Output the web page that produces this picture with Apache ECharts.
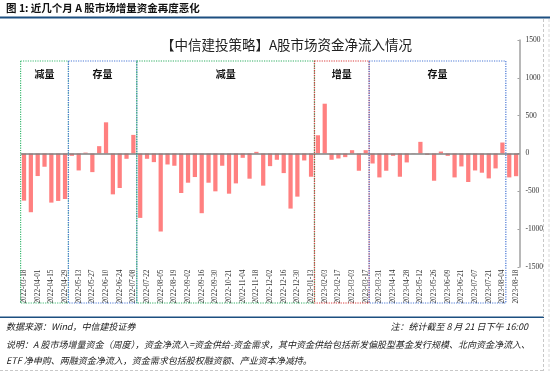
<!DOCTYPE html>
<html>
<head>
<meta charset="utf-8">
<script src="https://cdn.jsdelivr.net/npm/echarts@6/dist/echarts.min.js"></script>
<style>
html,body{margin:0;padding:0;background:#fff;}
#c{width:550px;height:372px;}
</style>
</head>
<body>
<div id="c"></div>
<script>
// ---- data ----
const categories = [
  '2022-03-18','2022-03-25','2022-04-01','2022-04-08','2022-04-15','2022-04-22','2022-04-29',
  '2022-05-06','2022-05-13','2022-05-20','2022-05-27','2022-06-03','2022-06-10','2022-06-17',
  '2022-06-24','2022-07-01','2022-07-08','2022-07-15','2022-07-22','2022-07-29','2022-08-05',
  '2022-08-12','2022-08-19','2022-08-26','2022-09-02','2022-09-09','2022-09-16','2022-09-23',
  '2022-09-30','2022-10-14','2022-10-21','2022-10-28','2022-11-04','2022-11-11','2022-11-18',
  '2022-11-25','2022-12-02','2022-12-09','2022-12-16','2022-12-23','2022-12-30','2023-01-06',
  '2023-01-13','2023-01-20','2023-02-03','2023-02-10','2023-02-17','2023-02-24','2023-03-03',
  '2023-03-10','2023-03-17','2023-03-24','2023-03-31','2023-04-07','2023-04-14','2023-04-21',
  '2023-04-28','2023-05-05','2023-05-12','2023-05-19','2023-05-26','2023-06-02','2023-06-09',
  '2023-06-16','2023-06-21','2023-06-30','2023-07-07','2023-07-14','2023-07-21','2023-07-28',
  '2023-08-04','2023-08-11','2023-08-18'
];
const netInflow = [
  -623,-776,-298,-175,-649,-627,-601,
  -31,-224,12,-246,97,412,-540,
  -456,-70,246,-851,-70,-114,-1031,
  -145,-162,-522,-386,-311,-789,-386,
  -500,-162,-531,-395,-57,-333,22,
  -425,-167,-83,-259,-728,-570,-92,
  -307,241,658,-83,-66,-48,44,
  -228,44,-132,-316,-228,-31,-307,
  -118,-4,154,-18,-360,26,-31,
  -316,-171,-377,-224,-254,-329,-197,
  145,-316,-300
];
const yMin = -1500, yMax = 1500, yInterval = 500;
const regimeNames = ['减量','存量','减量','增量','存量'];
const regimeStart = [0, 7, 17, 43, 51];
const regimeEnd   = [6, 16, 42, 50, 70];
const regimeColors = ['#3dbb73','#4a78d6','#2fae62','#d93a3a','#4a78d6'];

const chartTitle = '【中信建投策略】A股市场资金净流入情况';
const figTitle = '图 1: 近几个月 A 股市场增量资金再度恶化';
const sourceText = '数据来源：Wind，中信建投证券';
const noteText = '注：统计截至 8 月 21 日下午 16:00';
const descLine1 = '说明：A 股市场增量资金（周度），资金净流入=资金供给-资金需求，其中资金供给包括新发偏股型基金发行规模、北向资金净流入、';
const descLine2 = 'ETF 净申购、两融资金净流入，资金需求包括股权融资额、产业资本净减持。';

// ---- chart ----
const chart = echarts.init(document.getElementById('c'), null, {renderer:'canvas'});
const option = {
  animation: false,
  backgroundColor: '#fff',
  title: {
    text: chartTitle, left: 281.5, top: 33, textAlign: 'center',
    textStyle: {fontFamily: 'Noto Sans CJK SC', fontSize: 13.5, fontWeight: 'normal', color: '#222'}
  },
  grid: {left: 20.6, right: 30.5, top: 40, bottom: 105, containLabel: false},
  xAxis: {
    type: 'category', data: categories,
    axisLine: {show: false, onZero: false},
    axisTick: {show: false},
    axisLabel: {
      interval: 1, rotate: 90, margin: 2.5,
      fontSize: 7.3, fontFamily: 'Liberation Serif', color: '#333'
    }
  },
  yAxis: {
    type: 'value', position: 'right', min: yMin, max: yMax, interval: yInterval,
    axisLine: {show: true, lineStyle: {color: '#a0a0a0', width: 1.5}},
    axisTick: {show: true, inside: true, length: 2, lineStyle: {color: '#a0a0a0'}},
    splitLine: {show: false},
    axisLabel: {margin: 6, fontSize: 7.5, fontFamily: 'Liberation Serif', color: '#333',
      formatter: function (v) { return String(v); }}
  },
  series: [{
    type: 'bar', data: netInflow, barWidth: '62%',
    itemStyle: {color: '#ff8080'},
    markLine: {
      silent: true, symbol: 'none', label: {show: false},
      lineStyle: {color: '#808080', width: 1.5, type: 'solid'},
      emphasis: {disabled: true},
      data: [{yAxis: 0}]
    }
  }]
};
chart.setOption(option);

function px(i){
  const p = chart.convertToPixel({xAxisIndex: 0}, i);
  return Array.isArray(p) ? p[0] : p;
}
const bw = px(1) - px(0);
const boxTop = 61, boxBottom = 303;
const graphics = [];
for (let k = 0; k < regimeNames.length; k++) {
  const x0 = px(regimeStart[k]) - bw / 2;
  const x1 = px(regimeEnd[k]) + bw / 2;
  graphics.push({
    type: 'rect', z: 50,
    shape: {x: x0, y: boxTop, width: x1 - x0, height: boxBottom - boxTop},
    style: {fill: 'none', stroke: regimeColors[k], lineWidth: 1.2, lineDash: [1.2, 1.2]}
  });
  graphics.push({
    type: 'text', z: 51, x: (x0 + x1) / 2, y: 74,
    style: {text: regimeNames[k], fontFamily: 'Noto Sans CJK SC', fontSize: 10, fontWeight: 'bold',
            fill: '#111', align: 'center', verticalAlign: 'middle'}
  });
}
// header / footer
graphics.push(
  {type: 'text', x: 6, y: 8.5, style: {text: figTitle, fontFamily: 'Noto Sans CJK SC', fontSize: 10.5,
    fontWeight: 'bold', fill: '#111', verticalAlign: 'middle'}},
  {type: 'line', shape: {x1: 0, y1: 17.5, x2: 550, y2: 17.5}, style: {stroke: '#1c4f80', lineWidth: 2}},
  {type: 'line', shape: {x1: 0, y1: 317.3, x2: 544, y2: 317.3}, style: {stroke: '#1c4f80', lineWidth: 1.5}},
  {type: 'line', shape: {x1: 543.5, y1: 19, x2: 543.5, y2: 371}, style: {stroke: '#c8c8c8', lineWidth: 1, lineDash: [3, 2]}},
  {type: 'line', shape: {x1: 549, y1: 19, x2: 549, y2: 371}, style: {stroke: '#d8d8d8', lineWidth: 1, lineDash: [3, 2]}},
  {type: 'line', shape: {x1: 0, y1: 370.5, x2: 544, y2: 370.5}, style: {stroke: '#c8c8c8', lineWidth: 1, lineDash: [3, 2]}},
  {type: 'text', x: 6, y: 327, style: {text: sourceText, fontFamily: 'Noto Sans CJK SC', fontSize: 9,
    fontStyle: 'italic', fill: '#222', verticalAlign: 'middle'}},
  {type: 'text', x: 528, y: 327, style: {text: noteText, fontFamily: 'Noto Sans CJK SC', fontSize: 9,
    fontStyle: 'italic', fill: '#222', align: 'right', verticalAlign: 'middle'}},
  {type: 'text', x: 6, y: 344.3, style: {text: descLine1, fontFamily: 'Noto Sans CJK SC', fontSize: 9,
    fontStyle: 'italic', fill: '#222', verticalAlign: 'middle'}},
  {type: 'text', x: 6, y: 361, style: {text: descLine2, fontFamily: 'Noto Sans CJK SC', fontSize: 9,
    fontStyle: 'italic', fill: '#222', verticalAlign: 'middle'}}
);
chart.setOption({graphic: graphics});
</script>
</body>
</html>
